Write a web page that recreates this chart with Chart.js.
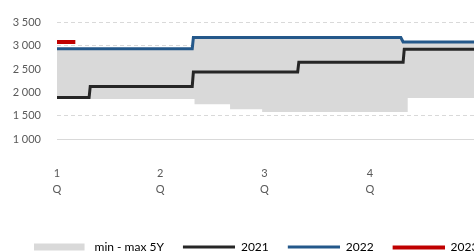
<!DOCTYPE html>
<html>
<head>
<meta charset="utf-8">
<script src="https://cdn.jsdelivr.net/npm/chart.js@4"></script>
<style>
    html, body { margin: 0; padding: 0; background: #ffffff; }
    #wrap { width: 474px; height: 251px; overflow: hidden; position: relative; }
</style>
</head>
<body>
<div id="wrap"><canvas id="myChart" width="512" height="263"></canvas></div>
<script>
// DATA (x = day of year)
const quarterDays = [0, 90, 181, 273];
const quarterLabels = [["1", "Q"], ["2", "Q"], ["3", "Q"], ["4", "Q"]];

const days2021 = [0, 28, 29, 118, 119, 210, 211, 302, 303, 365];
const values2021 = [1890, 1890, 2130, 2130, 2440, 2440, 2650, 2650, 2930, 2930];

const days2022 = [0, 118, 119, 300, 302, 365];
const values2022 = [2940, 2940, 3180, 3180, 3085, 3085];

const days2023 = [0, 16];
const values2023 = [3085, 3085];

const daysMax = [0, 118, 119, 300, 302, 365];
const valuesMax = [2940, 2940, 3180, 3180, 3085, 3085];
const daysMin = [0, 29, 29, 120, 120, 151, 151, 179, 179, 306, 306, 365];
const valuesMin = [1890, 1890, 1860, 1860, 1745, 1745, 1640, 1640, 1580, 1580, 1880, 1880];
// DATA

function toPoints(days, values) {
    return days.map(function (d, i) {
        return { x: d, y: values[i] };
    });
}

// LEGEND SYMBOLS
function legendSymbol(color, x0, x1, h) {
    const c = document.createElement("canvas");
    c.width = 55;
    c.height = 9;
    const g = c.getContext("2d");
    g.fillStyle = color;
    g.fillRect(x0, Math.round((9 - h) / 2), x1 - x0, h);
    return c;
}

const symBand = legendSymbol("#d9d9d9", 0, 51, 7);
const sym2021 = legendSymbol("#262626", 3, 55, 3);
const sym2022 = legendSymbol("#24588a", 3, 55, 3);
const sym2023 = legendSymbol("#c00000", 3, 55, 4);
// LEGEND SYMBOLS

function thousands(v) {
    return String(v).replace(/\B(?=(\d{3})+(?!\d))/g, " ");
}

Chart.defaults.font.family = "Lato, 'Liberation Sans', sans-serif";
Chart.defaults.color = "#595959";

const ctx = document.getElementById("myChart").getContext("2d");
new Chart(ctx, {
    type: "line",
    data: {
        datasets: [
            {
                label: "min - max 5Y",
                data: toPoints(daysMax, valuesMax),
                borderWidth: 0,
                pointRadius: 0,
                backgroundColor: "#d9d9d9",
                fill: "+1",
                order: 10,
            },
            {
                label: "min",
                data: toPoints(daysMin, valuesMin),
                borderWidth: 0,
                pointRadius: 0,
                fill: false,
                order: 10,
            },
            {
                label: "2021",
                data: toPoints(days2021, values2021),
                borderColor: "#262626",
                borderWidth: 3,
                pointRadius: 0,
                fill: false,
            },
            {
                label: "2022",
                data: toPoints(days2022, values2022),
                borderColor: "#24588a",
                borderWidth: 3,
                pointRadius: 0,
                fill: false,
            },
            {
                label: "2023",
                data: toPoints(days2023, values2023),
                borderColor: "#c00000",
                borderWidth: 4,
                pointRadius: 0,
                fill: false,
            },
        ],
    },
    options: {
        responsive: false,
        animation: false,
        devicePixelRatio: 1,
        layout: {
            padding: { top: 17, right: 0, left: 0, bottom: 0 },
        },
        plugins: {
            tooltip: { enabled: false },
            legend: {
                position: "bottom",
                labels: {
                    usePointStyle: true,
                    pointStyleWidth: 55,
                    padding: 16,
                    font: { size: 12 },
                    color: "#595959",
                    generateLabels: function () {
                        return [
                            { text: "min - max 5Y", pointStyle: symBand, lineWidth: 0, strokeStyle: "transparent", fillStyle: "transparent", datasetIndex: 0 },
                            { text: "2021", pointStyle: sym2021, lineWidth: 0, strokeStyle: "transparent", fillStyle: "transparent", datasetIndex: 2 },
                            { text: "2022", pointStyle: sym2022, lineWidth: 0, strokeStyle: "transparent", fillStyle: "transparent", datasetIndex: 3 },
                            { text: "2023", pointStyle: sym2023, lineWidth: 0, strokeStyle: "transparent", fillStyle: "transparent", datasetIndex: 4 },
                        ];
                    },
                },
            },
        },
        scales: {
            x: {
                type: "linear",
                min: 0,
                max: 397,
                afterBuildTicks: function (axis) {
                    axis.ticks = quarterDays.map(function (d) {
                        return { value: d };
                    });
                },
                afterFit: function (axis) {
                    axis.height = 86;
                },
                grid: { display: false, drawTicks: false },
                border: { display: true, color: "#d9d9d9", width: 1 },
                ticks: {
                    autoSkip: false,
                    maxRotation: 0,
                    padding: 26,
                    font: { size: 11, lineHeight: 1.5 },
                    callback: function (value, index) {
                        return quarterLabels[index];
                    },
                },
            },
            y: {
                min: 1000,
                max: 3500,
                afterFit: function (axis) {
                    axis.width = 57;
                },
                grid: { color: "#d9d9d9", drawTicks: false, lineWidth: 1 },
                border: { display: false, dash: [4, 3] },
                ticks: {
                    stepSize: 500,
                    padding: 16,
                    font: { size: 11 },
                    callback: function (value) {
                        return thousands(value);
                    },
                },
            },
        },
    },
});
</script>
</body>
</html>
